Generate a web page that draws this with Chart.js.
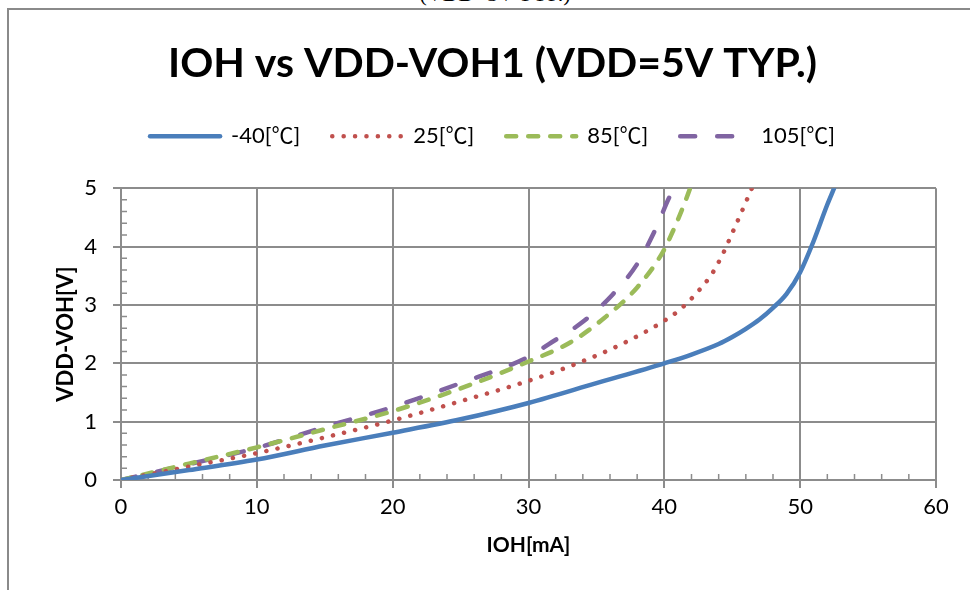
<!DOCTYPE html>
<html>
<head>
<meta charset="utf-8">
<script src="https://cdn.jsdelivr.net/npm/chart.js@4.4.1/dist/chart.umd.min.js"></script>
<style>
html, body { margin: 0; padding: 0; background: #fff; overflow: hidden; }
body { width: 970px; height: 590px; position: relative; }
#cap { position: absolute; left: 395px; top: -17px; width: 200px; text-align: center;
       font: 22px 'Liberation Serif', serif; line-height: 1; }
#frame { position: absolute; left: 7px; top: 8px; width: 970px; height: 590px;
         border-left: 2px solid #8a8a8a; border-top: 2px solid #8a8a8a; }
#wrap { position: absolute; left: 9px; top: 10px; width: 961px; height: 580px; }
</style>
</head>
<body>
<div id="cap">(VDD=5V TYP.)</div>
<div id="frame"></div>
<div id="wrap"><canvas id="myChart" width="961" height="580"></canvas></div>
<script>
// IOH [mA] / VDD-VOH [V]
const labels = ['-40[℃]', '25[℃]', '85[℃]', '105[℃]'];

const ioh_m40 = [0, 5, 10, 15, 20, 25, 30, 35, 40, 42, 44, 45, 46, 47, 48, 49, 50, 51, 52, 52.5];
const v_m40   = [0, 0.17, 0.35, 0.59, 0.81, 1.04, 1.32, 1.66, 2.0, 2.15, 2.33, 2.45, 2.59, 2.75, 2.95, 3.19, 3.56, 4.1, 4.72, 5.0];

const ioh_25 = [0, 5, 10, 15, 20, 25, 30, 33.5, 36.7, 39.8, 41.2, 42.4, 43.5, 44.3, 45, 45.7, 46.45];
const v_25   = [0, 0.23, 0.46, 0.73, 1.02, 1.35, 1.70, 1.99, 2.31, 2.70, 2.93, 3.21, 3.53, 3.87, 4.23, 4.6, 5.0];

const ioh_85 = [0, 5, 10, 15, 20, 25, 30, 33.1, 35.6, 38, 39.9, 40.7, 41.5, 41.9];
const v_85   = [0, 0.28, 0.56, 0.87, 1.18, 1.57, 2.03, 2.36, 2.78, 3.30, 3.91, 4.3, 4.75, 5.0];

const ioh_105 = [0, 5, 10, 15, 20, 25, 30, 31.5, 34, 36.2, 38.05, 39.4, 40.5, 40.9];
const v_105   = [0, 0.27, 0.55, 0.91, 1.25, 1.66, 2.11, 2.33, 2.71, 3.18, 3.72, 4.32, 4.9, 5.0];

const xTicks = [0, 10, 20, 30, 40, 50, 60];
const yTicks = [0, 1, 2, 3, 4, 5];

const pts = (xs, ys) => xs.map((x, i) => ({ x: x, y: ys[i] }));
const FONT = "Lato, 'Noto Sans CJK JP', sans-serif";
const GRID = '#8c8c8c';

function series(label, data, color, dash) {
  return {
    label: label,
    data: data,
    borderColor: color,
    backgroundColor: color,
    borderWidth: 4.5,
    borderDash: dash,
    borderCapStyle: 'round',
    pointRadius: 0,
    pointStyle: 'line',
    cubicInterpolationMode: 'monotone',
    fill: false
  };
}

// small inner ticks, like excel minor tick marks
const minorTicks = {
  id: 'minorTicks',
  beforeDatasetsDraw(chart) {
    const ctx = chart.ctx;
    const xs = chart.scales.x, ys = chart.scales.y;
    ctx.save();
    ctx.strokeStyle = GRID;
    ctx.lineWidth = 1.5;
    ctx.beginPath();
    for (let v = 2; v < 60; v += 2) {
      if (v % 10 === 0) continue;
      const px = xs.getPixelForValue(v);
      ctx.moveTo(px, ys.bottom);
      ctx.lineTo(px, ys.bottom - 6);
    }
    for (let k = 1; k < 25; k++) {
      if (k % 5 === 0) continue;
      const py = ys.getPixelForValue(k * 0.2);
      ctx.moveTo(xs.left, py);
      ctx.lineTo(xs.left + 6, py);
    }
    ctx.stroke();
    ctx.restore();
  }
};

// extra room under the legend
const legendGap = {
  id: 'legendGap',
  beforeInit(chart) {
    const fit = chart.legend.fit;
    chart.legend.fit = function () {
      fit.call(this);
      this.height += 31;
    };
  }
};

const ctx = document.getElementById('myChart');
const myChart = new Chart(ctx, {
  type: 'line',
  data: {
    datasets: [
      series(labels[0], pts(ioh_m40, v_m40), '#4a7ebb', []),
      series(labels[1], pts(ioh_25, v_25), '#c0504d', [0.1, 11.3]),
      series(labels[2], pts(ioh_85, v_85), '#9bbb59', [10, 12]),
      series(labels[3], pts(ioh_105, v_105), '#8064a2', [15, 22])
    ]
  },
  options: {
    responsive: false,
    animation: false,
    layout: { padding: { left: 40, right: 34, top: 0, bottom: 28 } },
    plugins: {
      title: {
        display: true,
        text: 'IOH vs VDD-VOH1 (VDD=5V TYP.)',
        color: '#000',
        font: { family: FONT, size: 41, weight: 'bold' },
        padding: { top: 29, bottom: 5 }
      },
      legend: {
        position: 'top',
        labels: {
          usePointStyle: true,
          pointStyleWidth: 70,
          boxHeight: 5,
          color: '#000',
          font: { family: FONT, size: 22 },
          padding: 32,
          generateLabels(chart) {
            const items = Chart.defaults.plugins.legend.labels.generateLabels(chart);
            items.forEach(it => {
              const ds = chart.data.datasets[it.datasetIndex];
              it.lineDash = ds.borderDash;
              it.lineWidth = ds.borderWidth;
              it.lineCap = 'round';
              it.strokeStyle = ds.borderColor;
              it.pointStyle = 'line';
            });
            return items;
          }
        }
      },
      tooltip: { enabled: false }
    },
    scales: {
      x: {
        type: 'linear',
        min: 0, max: 60,
        afterBuildTicks: s => { s.ticks = xTicks.map(v => ({ value: v })); },
        afterFit: s => { s.height = 82; },
        ticks: { color: '#000', font: { family: FONT, size: 22 }, padding: 6 },
        grid: { color: GRID, lineWidth: 2, tickLength: 8 },
        border: { color: GRID, width: 2 },
        title: { display: true, text: 'IOH[mA]', color: '#000',
                 font: { family: FONT, size: 21, weight: 'bold' } }
      },
      y: {
        min: 0, max: 5,
        afterBuildTicks: s => { s.ticks = yTicks.map(v => ({ value: v })); },
        afterFit: s => { s.width = 72; },
        ticks: { color: '#000', font: { family: FONT, size: 22 }, padding: 16 },
        grid: { color: GRID, lineWidth: 2, tickLength: 8 },
        border: { color: GRID, width: 2 },
        title: { display: true, text: 'VDD-VOH[V]', color: '#000',
                 font: { family: FONT, size: 22, weight: 'bold' } }
      }
    }
  },
  plugins: [minorTicks, legendGap]
});
</script>
</body>
</html>
